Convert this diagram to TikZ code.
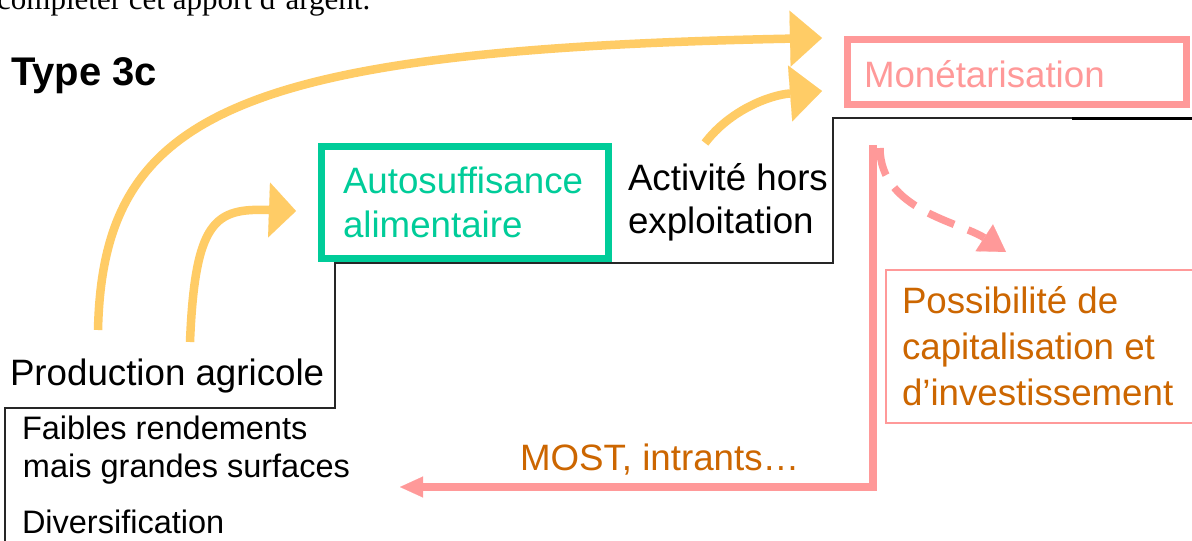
\documentclass[tikz,border=0pt]{standalone}
\usepackage{fontspec}
\setmainfont{Liberation Sans}
\newfontfamily\timesfont{Liberation Serif}
\usetikzlibrary{arrows.meta}

\definecolor{gold}{HTML}{FFCC66}
\definecolor{mint}{HTML}{00CC99}
\definecolor{rose}{HTML}{FF9999}
\definecolor{rust}{HTML}{CC6600}

\tikzset{
  lbl/.style={anchor=base west, inner sep=0pt, outer sep=0pt,
              font=\fontsize{36.7}{44}\selectfont},
  lblsmall/.style={lbl, font=\fontsize{32.5}{39}\selectfont},
  stair/.style={draw=black!85, line width=1.5pt},
  framebox/.style={draw, inner sep=0pt},
  goldarrow/.style={draw=gold, line width=8.5pt,
     -{Triangle[length=32pt,width=56pt,line width=0.1pt]}},
  rosearrow/.style={draw=rose, line width=7.5pt, line join=miter,
     -{Triangle[length=23pt,width=21pt,line width=0.1pt]}},
  rosedash/.style={draw=rose, line width=7.5pt, dash pattern=on 28pt off 15pt,
     -{Triangle[length=26pt,width=32pt,line width=0.1pt]}},
}

\begin{document}
\begin{tikzpicture}[x=1pt, y=-1pt]
  \useasboundingbox[fill=white] (0,0) rectangle (1192,541);

  % caption line of the surrounding text, cut at the top edge
  \node[anchor=base west, inner sep=0pt, font=\timesfont\fontsize{31}{36}\selectfont]
       (caption) at (-3,9) {compléter cet apport d’argent.};

  \node[anchor=base west, inner sep=0pt, font=\bfseries\fontsize{40}{48}\selectfont]
       (title) at (11,85) {Type 3c};

  % staircase
  \draw[stair] (5,545) |- (335,408) |- (833,263) |- (1194,118);
  \draw[line width=3pt] (1072,118) -- (1194,118);

  % boxes
  \node[framebox, draw=mint, line width=7pt, minimum width=287pt, minimum height=112pt]
       (autobox) at (465,202.5) {};
  \node[framebox, draw=rose, line width=7pt, minimum width=339pt, minimum height=65pt]
       (monetbox) at (1017,72) {};
  \node[framebox, draw=rose, line width=2pt, minimum width=308pt, minimum height=153pt]
       (capbox) at (1040,346.5) {};

  % texts
  \node[lbl] (prod) at (10,385) {Production agricole};
  \node[lblsmall] (faib1) at (22,439) {Faibles rendements};
  \node[lblsmall] (faib2) at (23,477) {mais grandes surfaces};
  \node[lblsmall] (diver) at (22,533) {Diversification};

  \node[lbl, text=mint] (auto1) at (343,193) {Autosuffisance};
  \node[lbl, text=mint] (auto2) at (343,237) {alimentaire};

  \node[lbl] (act1) at (628,190) {Activité hors};
  \node[lbl] (act2) at (628,233) {exploitation};

  \node[lbl, text=rose] (monet) at (864,87) {Monétarisation};

  \node[lbl, text=rust] (cap1) at (902,313) {Possibilité de};
  \node[lbl, text=rust] (cap2) at (902,359) {capitalisation et};
  \node[lbl, text=rust] (cap3) at (902,405) {d’investissement};

  \node[lbl, text=rust] (most) at (520,470) {MOST, intrants…};

  % arrow end points
  \coordinate (prodA) at (98,330);
  \coordinate (prodB) at (190,342);
  \coordinate (actA)  at (705,143);
  \coordinate (monetIn1) at (822,38);
  \coordinate (monetIn2) at (822,91);
  \coordinate (autoIn) at (296,211);
  \coordinate (pinkTop) at (873,145);
  \coordinate (mostEnd) at (400,487);
  \coordinate (dashStart) at (880,148);
  \coordinate (dashEnd) at (1006,252);

  % yellow flows
  \draw[goldarrow] (prodA) .. controls (103,115) and (230,50) .. (monetIn1);
  \draw[goldarrow, -{Triangle[length=27pt,width=55pt,line width=0.1pt]}]
       (prodB) .. controls (195,220) and (215,208) .. (autoIn);
  \draw[goldarrow] (actA) .. controls (730,110) and (770,95) .. (monetIn2);

  % pink flows
  \draw[rosearrow] (pinkTop) |- (mostEnd);
  \draw[rosedash] (dashStart) .. controls (880,210) and (960,222) .. (dashEnd);
\end{tikzpicture}
\end{document}
